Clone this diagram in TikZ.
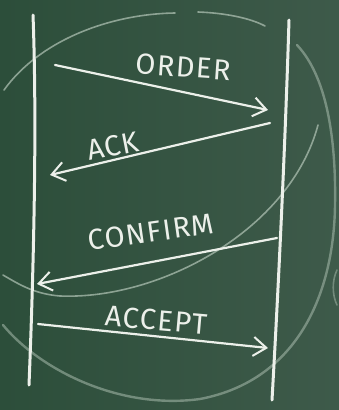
\documentclass[tikz,border=0pt]{standalone}
\usepackage{fontspec}
\setsansfont{Fira Sans}
\usepackage{tikz}
\usetikzlibrary{arrows.meta,calc,positioning}
\definecolor{board}{RGB}{44,78,58}
\definecolor{boardR}{RGB}{62,90,74}
\definecolor{chalk}{RGB}{236,240,234}
\definecolor{faint}{RGB}{180,198,184}

\tikzset{
  lifeline/.style={chalk, line width=3pt, line cap=round},
  msg/.style={chalk, line width=2.2pt, line cap=round,
    -{Straight Barb[length=13pt,width=19pt,line width=2pt]}},
  ghost/.style={faint, line width=1.6pt, line cap=round, opacity=0.7},
  msglabel/.style={text=chalk, inner sep=0pt,
    font=\sffamily\fontsize{29}{31}\selectfont\addfontfeatures{LetterSpace=5}}
}

\begin{document}
\begin{tikzpicture}[x=1pt, y=-1pt]
  % board
  \shade[left color=board, right color=boardR] (0,0) rectangle (339,410);
  \useasboundingbox (0,0) rectangle (339,410);

  % the big chalk circle (faint, half wiped)
  \draw[ghost] (4,90) .. controls (40,40) and (110,14) .. (175,13);
  \draw[ghost] (198,12) .. controls (225,13) and (250,18) .. (265,26);
  \draw[ghost, line width=2.4pt, opacity=0.5] (297,45) .. controls (330,80) and (336,150) .. (335,205)
    .. controls (334,290) and (300,380) .. (200,399)
    .. controls (120,410) and (40,370) .. (3,325);
  \draw[ghost] (3,275) .. controls (20,285) and (35,294) .. (60,296)
    .. controls (160,300) and (290,230) .. (318,125);
  \draw[ghost, opacity=0.45] (337,270) .. controls (332,280) and (332,295) .. (337,305);

  % lifelines
  \coordinate (clientTop) at (33,15);
  \coordinate (clientBot) at (29,385);
  \coordinate (serverTop) at (289,20);
  \coordinate (serverBot) at (272,400);
  \draw[lifeline] (clientTop) .. controls (37,120) and (34,260) .. (clientBot);
  \draw[lifeline] (serverTop) .. controls (286,120) and (280,260) .. (serverBot);

  % message ends
  \coordinate (orderA) at (55,65);   \coordinate (orderB) at (268,110);
  \coordinate (ackA) at (270,123);   \coordinate (ackB) at (50,175);
  \coordinate (confA) at (277,238);  \coordinate (confB) at (37,284);
  \coordinate (accA) at (38,324);    \coordinate (accB) at (268,348);

  \draw[msg] (orderA) -- (orderB);
  \draw[msg] (ackA) -- (ackB);
  \draw[msg] (confA) -- (confB);
  \draw[msg] (accA) -- (accB);

  % labels
  \node[msglabel, rotate=-4] (order) at (183,67) {ORDER};
  \node[msglabel, rotate=11] (ack) at (113,146) {ACK};
  \node[msglabel, rotate=8] (confirm) at (151,232) {CONFIRM};
  \node[msglabel, rotate=-5] (accept) at (156,320) {ACCEPT};
\end{tikzpicture}
\end{document}
